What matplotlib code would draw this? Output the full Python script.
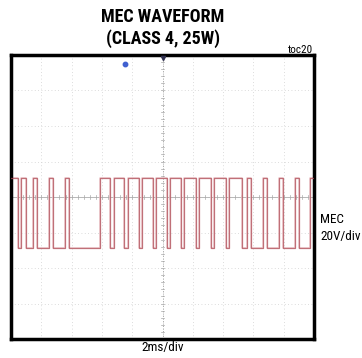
import matplotlib
matplotlib.use('Agg')
import matplotlib.pyplot as plt
from matplotlib import font_manager
import numpy as np

# scope settings
time_per_div = 2.0      # ms/div
volt_per_div = 20.0     # V/div
n_xdiv = 10
n_ydiv = 8

# MEC trace: edge times (ms from left edge of screen), trace starts high
edge_times = [0.46, 0.66, 0.99, 1.45, 1.72, 2.51, 2.77, 3.56, 3.83, 5.87,
              6.53, 6.80, 7.46, 7.72, 8.45, 8.65, 9.37, 9.57, 10.30, 10.50,
              11.22, 11.42, 12.21, 12.41, 13.20, 13.40, 14.19, 14.39, 15.25, 15.58,
              15.84, 16.63, 16.90, 17.69, 17.95, 18.75, 19.01, 19.74]
high_level = 10.7     # V, relative to screen centre
low_level = -28.8
trigger_time = 7.52   # ms, blue marker on top of screen

title = 'MEC WAVEFORM\n(CLASS 4, 25W)'
x_label = '2ms/div'
ch_label = 'MEC\n20V/div'
tag = 'toc20'

#################################################################
# pick a narrow font if one is there
names = set(f.name for f in font_manager.fontManager.ttflist)
narrow = None
for n in ['Liberation Sans Narrow', 'Arial Narrow', 'Roboto Condensed', 'Open Sans Condensed']:
	if n in names:
		narrow = n
		break
if narrow:
	fam = [narrow, 'DejaVu Sans']
	t_size, l_size = 13, 9.5
else:
	fam = ['Liberation Sans', 'DejaVu Sans']
	t_size, l_size = 11.5, 9

# build step trace
t = [0.0]
v = [high_level]
state = high_level
for e in edge_times:
	t.append(e)
	v.append(state)
	state = low_level if state == high_level else high_level
	t.append(e)
	v.append(state)
t.append(time_per_div * n_xdiv)
v.append(state)

W, H = 362, 358
fig = plt.figure(figsize=(W / 100, H / 100), dpi=100)
fig.patch.set_facecolor('white')

ax_l, ax_r, ax_t, ax_b = 11, 314, 55, 339
ax = fig.add_axes([ax_l / W, 1 - ax_b / H, (ax_r - ax_l) / W, (ax_b - ax_t) / H])

xmax = time_per_div * n_xdiv
ymax = volt_per_div * n_ydiv / 2
ax.set_xlim(0, xmax)
ax.set_ylim(-ymax, ymax)

# graticule
for i in range(1, n_xdiv):
	ax.axvline(i * time_per_div, color='#d0d0d0', lw=0.6, ls=(0, (1, 3)), zorder=1)
for j in range(1, n_ydiv):
	ax.axhline(-ymax + j * volt_per_div, color='#d0d0d0', lw=0.6, ls=(0, (1, 3)), zorder=1)
ax.axhline(0, color='#b8b8b8', lw=0.7, zorder=1)
ax.axvline(xmax / 2, color='#909090', lw=0.6, ls=(0, (1, 2)), zorder=1)

# minor ticks on centre lines
for k in np.arange(0, xmax, time_per_div / 5):
	ax.plot([k, k], [-0.9, 0.9], color='#a8a8a8', lw=0.5, zorder=1)
for k in np.arange(-ymax, ymax, volt_per_div / 5):
	ax.plot([xmax / 2 - 0.1, xmax / 2 + 0.1], [k, k], color='#a8a8a8', lw=0.5, zorder=1)

# trace
ax.plot(t, v, color='#ecc4c8', lw=1.1, zorder=2)
ax.plot(t, v, color='#b0505a', lw=0.9, alpha=0.75, zorder=3, solid_joinstyle='round')

# trigger markers
ax.plot([trigger_time], [ymax - 0.26 * volt_per_div], marker='o', ms=3.2, color='#4060d0', zorder=4)
ax.plot([xmax / 2], [ymax - 0.08 * volt_per_div], marker='v', ms=3, color='#303050', zorder=4)

ax.set_xticks([])
ax.set_yticks([])
for s in ax.spines.values():
	s.set_linewidth(2.5)
	s.set_color('black')

fig.text(163 / W, 1 - 28 / H, title, ha='center', va='center', fontsize=t_size,
		 fontweight='bold', family=fam, linespacing=1.25)
fig.text(313 / W, 1 - 50 / H, tag, ha='right', va='center', fontsize=8, family=fam)
fig.text(163 / W, 1 - 348 / H, x_label, ha='center', va='center', fontsize=l_size, family=fam)
fig.text(320 / W, 1 - 228 / H, ch_label, ha='left', va='center', fontsize=l_size,
		 family=fam, linespacing=1.45)

fig.savefig('out.png', dpi=100, facecolor='white')
